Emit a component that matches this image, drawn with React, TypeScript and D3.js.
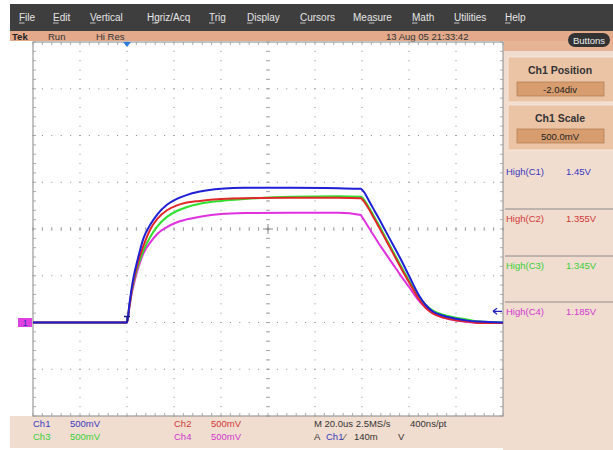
import React from "react";
import * as d3 from "d3";

// ---- data (time in µs, volts) ----
const TIME = [-40, -20, -1, 0, 1, 2, 3, 4, 5, 7, 10, 13, 17, 21, 25, 31, 40, 50, 70, 90, 99.5, 100, 101, 103, 105, 107, 110, 113, 116, 120, 124, 127, 130, 135, 140, 145, 150, 160];
const CH1 = [0.02, 0.02, 0.02, 0.02, 0.21, 0.39, 0.53, 0.64, 0.74, 0.92, 1.07, 1.18, 1.28, 1.34, 1.38, 1.42, 1.45, 1.46, 1.46, 1.455, 1.45, 1.44, 1.41, 1.32, 1.23, 1.14, 1.0, 0.86, 0.72, 0.52, 0.32, 0.21, 0.14, 0.09, 0.06, 0.04, 0.03, 0.02];
const CH2 = [0.02, 0.02, 0.02, 0.02, 0.19, 0.36, 0.49, 0.6, 0.69, 0.84, 1.02, 1.13, 1.22, 1.27, 1.3, 1.32, 1.34, 1.35, 1.355, 1.355, 1.35, 1.34, 1.31, 1.23, 1.14, 1.05, 0.91, 0.77, 0.63, 0.45, 0.28, 0.18, 0.12, 0.07, 0.045, 0.03, 0.015, 0.015];
const CH3 = [0.02, 0.02, 0.02, 0.02, 0.19, 0.35, 0.47, 0.57, 0.65, 0.79, 0.94, 1.05, 1.15, 1.21, 1.25, 1.29, 1.32, 1.34, 1.365, 1.37, 1.365, 1.36, 1.33, 1.25, 1.16, 1.07, 0.93, 0.79, 0.65, 0.47, 0.31, 0.21, 0.15, 0.1, 0.07, 0.05, 0.03, 0.02];
const CH4 = [0.02, 0.02, 0.02, 0.02, 0.18, 0.33, 0.44, 0.54, 0.62, 0.76, 0.88, 0.97, 1.04, 1.09, 1.12, 1.15, 1.18, 1.19, 1.195, 1.195, 1.17, 1.15, 1.11, 1.03, 0.95, 0.87, 0.76, 0.65, 0.54, 0.4, 0.26, 0.18, 0.12, 0.07, 0.04, 0.025, 0.015, 0.015];

const CHANNELS = ["Ch1", "Ch2", "Ch3", "Ch4"];
const HIGH_LABELS = ["High(C1)", "High(C2)", "High(C3)", "High(C4)"];
const HIGH_VALUES = ["1.45V", "1.355V", "1.345V", "1.185V"];
const MENU = ["File", "Edit", "Vertical", "Hgriz/Acq", "Trig", "Display", "Cursors", "Measure", "Math", "Utilities", "Help"];
const MENU_UNDERLINE = [0, 0, 0, 1, 0, 0, 0, 3, 0, 0, 0];

const TIME_DOMAIN = [-40, 160]; // 20 µs/div, 10 div
const VOLT_DOMAIN = [-0.98, 3.02]; // 500 mV/div, 8 div, position -2.04 div

// layout
const W = 613, H = 450;
const PX0 = 33, PX1 = 503, PY0 = 42, PY1 = 416;
const MENU_X = [19, 53, 90, 147, 209, 247, 300, 353, 412, 454, 505];
const COLORS = ["#1f1fd6", "#e02828", "#2fe02f", "#e030e0"];
const TEXT_COLORS = ["#3838c0", "#d03838", "#38d038", "#d038d0"];
const FONT = "'Liberation Sans', Arial, sans-serif";

export default function App() {
  const x = d3.scaleLinear().domain(TIME_DOMAIN).range([PX0, PX1]);
  const y = d3.scaleLinear().domain(VOLT_DOMAIN).range([PY1, PY0]);
  const series = [CH1, CH2, CH3, CH4];
  const line = (vals: number[]) =>
    d3.line<number>().x((_, i) => x(TIME[i])).y((v) => y(v)).curve(d3.curveMonotoneX)(vals) || "";

  const tStep = 20, vStep = 0.5;
  const majorT = d3.range(0, 11).map((k) => TIME_DOMAIN[0] + k * tStep);
  const majorV = d3.range(0, 9).map((k) => VOLT_DOMAIN[0] + k * vStep);
  const minorT = d3.range(0, 51).map((k) => TIME_DOMAIN[0] + (k * tStep) / 5);
  const minorV = d3.range(0, 41).map((k) => VOLT_DOMAIN[0] + (k * vStep) / 5);
  const centerT = (TIME_DOMAIN[0] + TIME_DOMAIN[1]) / 2;
  const centerV = (VOLT_DOMAIN[0] + VOLT_DOMAIN[1]) / 2;

  const dots: JSX.Element[] = [];
  majorT.forEach((t, i) =>
    minorV.forEach((v, j) => {
      if (i === 0 || i === 10) return;
      dots.push(<rect key={`a${i}-${j}`} x={x(t) - 0.5} y={y(v) - 0.5} width={1} height={1} fill="#8a8a8a" />);
    })
  );
  majorV.forEach((v, i) =>
    minorT.forEach((t, j) => {
      if (i === 0 || i === 8) return;
      dots.push(<rect key={`b${i}-${j}`} x={x(t) - 0.5} y={y(v) - 0.5} width={1} height={1} fill="#8a8a8a" />);
    })
  );

  const ticks: JSX.Element[] = [];
  minorT.forEach((t, j) => {
    const X = x(t);
    ticks.push(<line key={`ct${j}`} x1={X} x2={X} y1={y(centerV) - 2} y2={y(centerV) + 2} stroke="#999" strokeWidth={0.8} />);
    ticks.push(<line key={`tt${j}`} x1={X} x2={X} y1={PY0} y2={PY0 + 3} stroke="#999" strokeWidth={0.8} />);
    ticks.push(<line key={`bt${j}`} x1={X} x2={X} y1={PY1 - 3} y2={PY1} stroke="#999" strokeWidth={0.8} />);
  });
  minorV.forEach((v, j) => {
    const Y = y(v);
    ticks.push(<line key={`cv${j}`} x1={x(centerT) - 2} x2={x(centerT) + 2} y1={Y} y2={Y} stroke="#999" strokeWidth={0.8} />);
    ticks.push(<line key={`lv${j}`} x1={PX0} x2={PX0 + 3} y1={Y} y2={Y} stroke="#999" strokeWidth={0.8} />);
    ticks.push(<line key={`rv${j}`} x1={PX1 - 3} x2={PX1} y1={Y} y2={Y} stroke="#999" strokeWidth={0.8} />);
  });

  const t0 = x(0);
  const base = y(CH1[0]);

  return (
    <div style={{ position: "absolute", left: 0, top: 0 }}>
      <svg width={W} height={H} style={{ display: "block", fontFamily: FONT }}>
        <rect x={0} y={0} width={W} height={H} fill="#ffffff" />
        {/* menu bar */}
        <rect x={10} y={4} width={W - 10} height={27} fill="#3e3e3e" />
        {MENU.map((m, i) => (
          <g key={m}>
            <text x={MENU_X[i]} y={21} fontSize={10} fill="#e6e6e6">{m}</text>
          </g>
        ))}
        {MENU.map((m, i) => {
          const pre = m.slice(0, MENU_UNDERLINE[i]);
          const ch = m[MENU_UNDERLINE[i]];
          const x0 = MENU_X[i] + pre.length * 5.3;
          return <line key={`u${i}`} x1={x0} x2={x0 + (ch === "W" ? 8 : 5.5)} y1={23} y2={23} stroke="#e6e6e6" strokeWidth={0.8} />;
        })}
        {/* status bar */}
        <rect x={10} y={31} width={W - 10} height={10} fill="#e3a98a" />
        <text x={12} y={39.5} fontSize={9.5} fill="#222" fontWeight="bold">Tek</text>
        <text x={48} y={39.5} fontSize={9.5} fill="#333">Run</text>
        <text x={96} y={39.5} fontSize={9.5} fill="#333">Hi Res</text>
        <text x={386} y={39.5} fontSize={9.5} fill="#333">13 Aug 05 21:33:42</text>
        {/* right panel & bottom area */}
        <rect x={PX1} y={41} width={W - PX1} height={H - 41} fill="#f1ddcf" />
        <rect x={10} y={PY1} width={W - 10} height={H - PY1 - 2} fill="#f1ddcf" />
        <rect x={PX1 + 1} y={41} width={W - PX1} height={10} fill="#e6b394" />
        <rect x={568} y={33} width={42} height={14} rx={7} fill="#333" />
        <text x={589} y={43.5} fontSize={9.5} fill="#eee" textAnchor="middle">Buttons</text>
        {/* Ch1 Position panel */}
        <rect x={508} y={57} width={106} height={45} fill="#ebc3a5" stroke="#f6e6da" />
        <text x={560} y={74} fontSize={10.5} fontWeight="bold" fill="#333" textAnchor="middle">Ch1 Position</text>
        <rect x={517} y={82} width={87} height={14} fill="#d79d6e" stroke="#b07a50" strokeWidth={0.7} />
        <text x={560} y={92.5} fontSize={9.5} fill="#222" textAnchor="middle">-2.04div</text>
        {/* Ch1 Scale panel */}
        <rect x={508} y={105} width={106} height={45} fill="#ebc3a5" stroke="#f6e6da" />
        <text x={560} y={122} fontSize={10.5} fontWeight="bold" fill="#333" textAnchor="middle">Ch1 Scale</text>
        <rect x={517} y={129} width={87} height={14} fill="#d79d6e" stroke="#b07a50" strokeWidth={0.7} />
        <text x={560} y={139.5} fontSize={9.5} fill="#222" textAnchor="middle">500.0mV</text>
        {/* measurements */}
        {[209, 256, 302].map((yy) => (
          <line key={yy} x1={PX1 + 2} x2={W} y1={yy} y2={yy} stroke="#8a8a8a" strokeWidth={1} />
        ))}
        {HIGH_LABELS.map((lab, i) => (
          <g key={lab}>
            <text x={506} y={175 + i * 46.8} fontSize={9.5} fill={TEXT_COLORS[i]}>{lab}</text>
            <text x={566} y={175 + i * 46.8} fontSize={9.5} fill={TEXT_COLORS[i]}>{HIGH_VALUES[i]}</text>
          </g>
        ))}
        {/* plot */}
        <rect x={PX0} y={PY0} width={PX1 - PX0} height={PY1 - PY0} fill="#ffffff" />
        {dots}
        {ticks}
        <line x1={x(centerT)} x2={x(centerT)} y1={y(centerV) - 5} y2={y(centerV) + 5} stroke="#888" />
        <line x1={x(centerT) - 5} x2={x(centerT) + 5} y1={y(centerV)} y2={y(centerV)} stroke="#888" />
        <rect x={PX0} y={PY0} width={PX1 - PX0} height={PY1 - PY0} fill="none" stroke="#9a9a9a" strokeWidth={1.2} />
        {/* waveforms */}
        {[3, 2, 1, 0].map((i) => (
          <path key={CHANNELS[i]} d={line(series[i])} fill="none" stroke={COLORS[i]} strokeWidth={2} strokeLinejoin="round" />
        ))}
        {/* trigger markers */}
        <path d={`M${t0 - 4},${PY0} L${t0 + 4},${PY0} L${t0},${PY0 + 5} Z`} fill="#2a7ce0" />
        <path d={`M${t0 - 3},${base - 6} L${t0 + 3},${base - 6} M${t0},${base - 6} L${t0},${base}`} stroke="#1a1a90" strokeWidth={1.5} />
        <path d={`M${PX1 - 1},${y(0.14)} L${PX1 - 10},${y(0.14)} M${PX1 - 10},${y(0.14)} L${PX1 - 6},${y(0.14) - 3} M${PX1 - 10},${y(0.14)} L${PX1 - 6},${y(0.14) + 3}`} stroke="#2020c0" strokeWidth={1.3} fill="none" />
        {/* channel ground marker */}
        <rect x={18} y={base - 4.5} width={14} height={9} fill="#e040e0" />
        <text x={25} y={base + 3.5} fontSize={8.5} fill="#3030c0" textAnchor="middle">1</text>
        {/* bottom readouts */}
        <text x={33} y={427} fontSize={9.5} fill={TEXT_COLORS[0]}>Ch1</text>
        <text x={70} y={427} fontSize={9.5} fill={TEXT_COLORS[0]}>500mV</text>
        <text x={33} y={440} fontSize={9.5} fill={TEXT_COLORS[2]}>Ch3</text>
        <text x={70} y={440} fontSize={9.5} fill={TEXT_COLORS[2]}>500mV</text>
        <text x={174} y={427} fontSize={9.5} fill={TEXT_COLORS[1]}>Ch2</text>
        <text x={211} y={427} fontSize={9.5} fill={TEXT_COLORS[1]}>500mV</text>
        <text x={174} y={440} fontSize={9.5} fill={TEXT_COLORS[3]}>Ch4</text>
        <text x={211} y={440} fontSize={9.5} fill={TEXT_COLORS[3]}>500mV</text>
        <text x={314} y={427} fontSize={9.5} fill="#333">M 20.0us 2.5MS/s</text>
        <text x={410} y={427} fontSize={9.5} fill="#333">400ns/pt</text>
        <text x={314} y={440} fontSize={9.5} fill="#333">A</text>
        <text x={326} y={440} fontSize={9.5} fill={TEXT_COLORS[0]}>Ch1</text>
        <text x={344} y={440} fontSize={9.5} fill="#333">⁄</text>
        <text x={354} y={440} fontSize={9.5} fill="#333">140m</text>
        <text x={398} y={440} fontSize={9.5} fill="#333">V</text>
      </svg>
    </div>
  );
}
